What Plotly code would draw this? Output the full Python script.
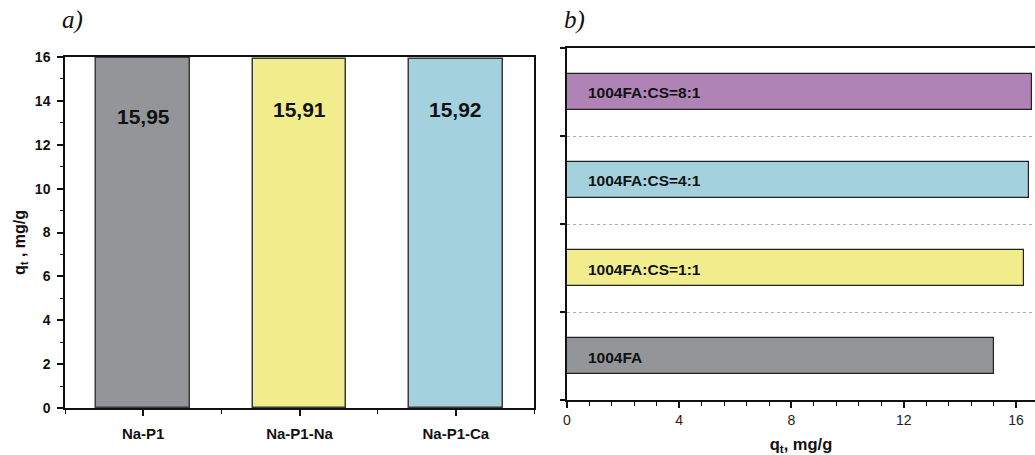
import plotly.graph_objects as go

# ---- data ----
left_categories = ["Na-P1", "Na-P1-Na", "Na-P1-Ca"]
left_values = [15.95, 15.91, 15.92]
left_labels = ["15,95", "15,91", "15,92"]
left_colors = ["#939598", "#f1ed8c", "#a3d2de"]
left_label_shift = [-58, -51, -51]

right_categories = ["1004FA", "1004FA:CS=1:1", "1004FA:CS=4:1", "1004FA:CS=8:1"]
right_values = [15.22, 16.29, 16.45, 16.57]
right_colors = ["#939598", "#f1ed8c", "#a3d2de", "#b083b6"]

FONT = "Liberation Sans, Arial, sans-serif"
SERIF = "Liberation Serif, Times New Roman, serif"

fig = go.Figure()

xi = list(range(len(left_categories)))
fig.add_trace(go.Bar(
    x=xi, y=left_values, width=0.6,
    marker=dict(color=left_colors, line=dict(color="#3a3a3a", width=1.5)),
    xaxis="x", yaxis="y", showlegend=False, hoverinfo="skip",
))

fig.add_trace(go.Bar(
    y=right_categories, x=right_values, orientation="h", width=0.4,
    marker=dict(color=right_colors, line=dict(color="#222", width=1.2)),
    xaxis="x2", yaxis="y2", showlegend=False, hoverinfo="skip",
))

annotations = []
for i, (v, t, s) in enumerate(zip(left_values, left_labels, left_label_shift)):
    annotations.append(dict(
        x=i, y=v, xref="x", yref="y", text=t, showarrow=False,
        yshift=s, font=dict(family=FONT, size=21, color="#111", weight="bold"),
    ))
for c in right_categories:
    annotations.append(dict(
        x=0, y=c, xref="x2", yref="y2", text=c, showarrow=False,
        xanchor="left", xshift=19, yshift=-1,
        font=dict(family=FONT, size=15.5, color="#111", weight="bold"),
    ))
annotations.append(dict(x=72/1035, y=1 - 20/455, xref="paper", yref="paper",
                        xanchor="center", yanchor="middle",
                        text="a)", showarrow=False,
                        font=dict(family=SERIF, size=25, color="#111", style="italic")))
annotations.append(dict(x=574/1035, y=1 - 20/455, xref="paper", yref="paper",
                        xanchor="center", yanchor="middle",
                        text="b)", showarrow=False,
                        font=dict(family=SERIF, size=25, color="#111", style="italic")))
# left y title
annotations.append(dict(x=20/1035, y=1 - 243/455, xref="paper", yref="paper",
                        xanchor="center", yanchor="middle",
                        text="q<sub>t</sub> , mg/g", showarrow=False, textangle=-90,
                        font=dict(family=FONT, size=16, color="#111", weight="bold")))

fig.update_layout(
    template="none",
    width=1035, height=455,
    margin=dict(l=0, r=0, t=0, b=0, autoexpand=False),
    paper_bgcolor="white", plot_bgcolor="white",
    bargap=0,
    font=dict(family=FONT, color="#111"),
    annotations=annotations,
    xaxis=dict(
        domain=[65/1035, 534/1035], anchor="y", automargin=False,
        range=[-0.5, 2.5],
        tickmode="array", tickvals=xi, ticktext=left_categories,
        tickfont=dict(family=FONT, size=15, color="#111", weight="bold"),
        ticks="outside", ticklen=6, tickwidth=1.5, tickcolor="#111",
        minor=dict(dtick=0.5, tick0=0.5, ticks="outside", ticklen=4, tickwidth=1.2, tickcolor="#111"),
        showline=True, linecolor="#111", linewidth=1.5, mirror=True,
        showgrid=False, zeroline=False, fixedrange=True,
        ticklabelstandoff=5,
    ),
    yaxis=dict(
        domain=[47/455, 398/455], anchor="x", automargin=False,
        range=[0, 16], dtick=2, tick0=0,
        tickfont=dict(family=FONT, size=14, color="#111", weight="bold"),
        ticks="outside", ticklen=6, tickwidth=1.5, tickcolor="#111",
        minor=dict(dtick=1, ticks="outside", ticklen=3, tickwidth=1.2, tickcolor="#111"),
        showline=True, linecolor="#111", linewidth=1.5, mirror=True,
        showgrid=False, zeroline=False, fixedrange=True,
        ticklabelstandoff=4,
    ),
    xaxis2=dict(
        domain=[567/1035, 1.0], anchor="y2", automargin=False,
        range=[0, 16.68], dtick=4, tick0=0,
        tickfont=dict(family=FONT, size=14, color="#222"),
        ticks="outside", ticklen=6, tickwidth=1.5, tickcolor="#111",
        minor=dict(dtick=0.8, ticks="outside", ticklen=4, tickwidth=1.2, tickcolor="#111"),
        showline=True, linecolor="#111", linewidth=1.5, mirror=True,
        showgrid=False, zeroline=False, fixedrange=True,
        title=dict(text="q<sub>t</sub>, mg/g", standoff=12,
                   font=dict(family=FONT, size=16.5, color="#111", weight="bold")),
        ticklabelstandoff=0,
    ),
    yaxis2=dict(
        domain=[55/455, 407/455], anchor="x2", automargin=False,
        type="category", categoryorder="array", categoryarray=right_categories,
        range=[-0.5, 3.5],
        showticklabels=False, tickson="boundaries",
        ticks="outside", ticklen=5, tickwidth=1.5, tickcolor="#111",
        showline=True, linecolor="#111", linewidth=1.5,
        showgrid=True, gridcolor="#b0b0b0", gridwidth=1, griddash="dot",
        zeroline=False, fixedrange=True,
    ),
)

fig.write_html("out.html", config={"displayModeBar": False},
               post_script="document.body.style.margin='0';document.body.style.overflow='hidden';")
